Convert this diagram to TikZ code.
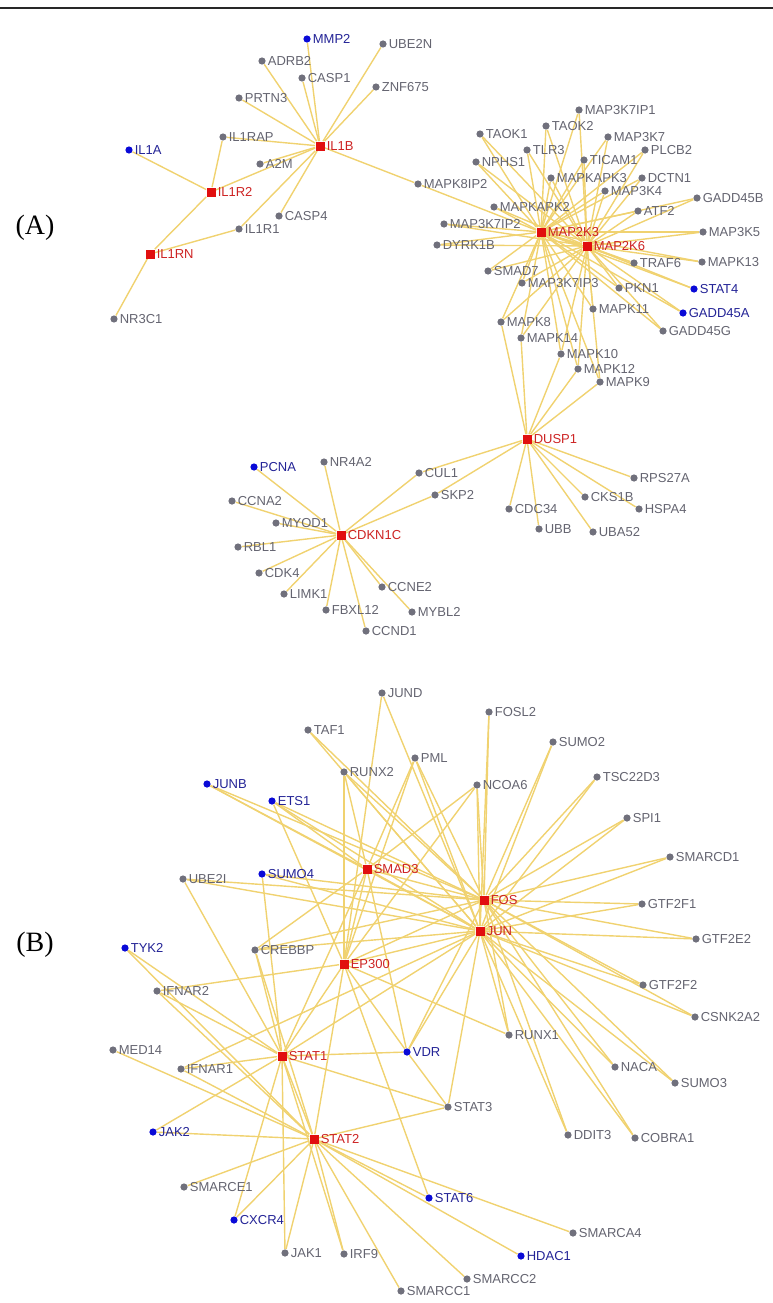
\documentclass[tikz,border=0pt]{standalone}
\usepackage{fontspec}
\setmainfont{Liberation Serif}
\newfontfamily\genefont{Liberation Sans}
\usetikzlibrary{backgrounds}

\definecolor{edgeyellow}{RGB}{240,210,112}
\definecolor{dotgray}{RGB}{112,112,124}
\definecolor{txtgray}{RGB}{100,100,112}
\definecolor{dotblue}{RGB}{10,10,215}
\definecolor{txtblue}{RGB}{35,35,150}
\definecolor{hubred}{RGB}{225,15,15}
\definecolor{txtred}{RGB}{205,35,35}

\tikzset{every picture/.style={line width=0.75pt}}
\tikzset{
  gtext/.style={font=\genefont\fontsize{13}{15}\selectfont, inner sep=1pt, text=txtgray},
  gene/.style={circle, fill=dotgray, inner sep=0pt, minimum size=7.2pt, label={[gtext, label distance=0.5pt]right:#1}},
  seed/.style={circle, fill=dotblue, inner sep=0pt, minimum size=7.2pt, label={[gtext, text=txtblue, label distance=0.5pt]right:#1}},
  hub/.style={rectangle, fill=hubred, inner sep=0pt, minimum size=9pt, label={[gtext, text=txtred, label distance=0.5pt]right:#1}},
  link/.style={draw=edgeyellow, line width=1.4pt},
  panel/.style={font=\fontsize{28}{30}\selectfont, inner sep=0pt}
}

\begin{document}
\begin{tikzpicture}[x=1pt,y=1pt,yscale=-1]
\useasboundingbox (0,0) rectangle (773,1303);
%top rule
\draw [line width=1.6pt, color={rgb, 255:red, 40; green, 40; blue, 40 }] (0,8) -- (773,8);
\node[panel] (pa) at (35,228) {(A)};
\node[panel] (pb) at (35,945) {(B)};

%Panel A: IL1B group
\node[hub=IL1B] (IL1B) at (320,146) {};
\node[hub=IL1R2] (IL1R2) at (211,192) {};
\node[hub=IL1RN] (IL1RN) at (150,254) {};
\node[seed=MMP2] (MMP2) at (307,39) {};
\node[seed=IL1A] (IL1A) at (129,150) {};
\node[gene=UBE2N] (UBE2N) at (383,44) {};
\node[gene=ADRB2] (ADRB2) at (262,61) {};
\node[gene=CASP1] (CASP1) at (302,78) {};
\node[gene=ZNF675] (ZNF675) at (376,87) {};
\node[gene=PRTN3] (PRTN3) at (239,98) {};
\node[gene=IL1RAP] (IL1RAP) at (223,137) {};
\node[gene=A2M] (A2M) at (260,164) {};
\node[gene=CASP4] (CASP4) at (279,216) {};
\node[gene=IL1R1] (IL1R1) at (239,229) {};
\node[gene=NR3C1] (NR3C1) at (114,319) {};
\node[gene=MAPK8IP2] (MAPK8IP2) at (418,184) {};

%Panel A: MAP2K3 / MAP2K6 group
\node[hub=MAP2K3] (MAP2K3) at (541,232) {};
\node[hub=MAP2K6] (MAP2K6) at (587,246) {};
\node[seed=STAT4] (STAT4) at (694,289) {};
\node[seed=GADD45A] (GADD45A) at (683,313) {};
\node[gene=MAP3K7IP1] (MAP3K7IP1) at (579,110) {};
\node[gene=TAOK2] (TAOK2) at (546,126) {};
\node[gene=TAOK1] (TAOK1) at (480,134) {};
\node[gene=MAP3K7] (MAP3K7) at (608,137) {};
\node[gene=TLR3] (TLR3) at (527,150) {};
\node[gene=PLCB2] (PLCB2) at (645,150) {};
\node[gene=NPHS1] (NPHS1) at (476,162) {};
\node[gene=TICAM1] (TICAM1) at (584,160) {};
\node[gene=MAPKAPK3] (MAPKAPK3) at (551,178) {};
\node[gene=DCTN1] (DCTN1) at (642,178) {};
\node[gene=MAP3K4] (MAP3K4) at (605,191) {};
\node[gene=GADD45B] (GADD45B) at (697,198) {};
\node[gene=MAPKAPK2] (MAPKAPK2) at (494,207) {};
\node[gene=ATF2] (ATF2) at (638,211) {};
\node[gene=MAP3K7IP2] (MAP3K7IP2) at (444,224) {};
\node[gene=MAP3K5] (MAP3K5) at (703,232) {};
\node[gene=DYRK1B] (DYRK1B) at (437,245) {};
\node[gene=TRAF6] (TRAF6) at (634,263) {};
\node[gene=MAPK13] (MAPK13) at (702,262) {};
\node[gene=SMAD7] (SMAD7) at (488,271) {};
\node[gene=MAP3K7IP3] (MAP3K7IP3) at (522,283) {};
\node[gene=PKN1] (PKN1) at (619,288) {};
\node[gene=MAPK11] (MAPK11) at (593,309) {};
\node[gene=MAPK8] (MAPK8) at (501,322) {};
\node[gene=GADD45G] (GADD45G) at (663,331) {};
\node[gene=MAPK14] (MAPK14) at (521,338) {};
\node[gene=MAPK10] (MAPK10) at (561,354) {};
\node[gene=MAPK12] (MAPK12) at (578,369) {};
\node[gene=MAPK9] (MAPK9) at (600,382) {};

%Panel A: DUSP1 / CDKN1C group
\node[hub=DUSP1] (DUSP1) at (527,439) {};
\node[hub=CDKN1C] (CDKN1C) at (341,535) {};
\node[seed=PCNA] (PCNA) at (254,467) {};
\node[gene=NR4A2] (NR4A2) at (324,462) {};
\node[gene=CUL1] (CUL1) at (419,473) {};
\node[gene=RPS27A] (RPS27A) at (634,478) {};
\node[gene=SKP2] (SKP2) at (435,495) {};
\node[gene=CKS1B] (CKS1B) at (585,497) {};
\node[gene=CCNA2] (CCNA2) at (232,501) {};
\node[gene=CDC34] (CDC34) at (509,509) {};
\node[gene=HSPA4] (HSPA4) at (639,509) {};
\node[gene=MYOD1] (MYOD1) at (276,523) {};
\node[gene=UBB] (UBB) at (539,529) {};
\node[gene=UBA52] (UBA52) at (593,532) {};
\node[gene=RBL1] (RBL1) at (238,547) {};
\node[gene=CDK4] (CDK4) at (259,573) {};
\node[gene=CCNE2] (CCNE2) at (382,587) {};
\node[gene=LIMK1] (LIMK1) at (284,594) {};
\node[gene=FBXL12] (FBXL12) at (326,610) {};
\node[gene=MYBL2] (MYBL2) at (412,612) {};
\node[gene=CCND1] (CCND1) at (366,631) {};

%Panel B
\node[hub=SMAD3] (SMAD3) at (367,869) {};
\node[hub=FOS] (FOS) at (484,900) {};
\node[hub=JUN] (JUN) at (480,931) {};
\node[hub=EP300] (EP300) at (344,964) {};
\node[hub=STAT1] (STAT1) at (282,1056) {};
\node[hub=STAT2] (STAT2) at (314,1139) {};
\node[seed=JUNB] (JUNB) at (207,784) {};
\node[seed=ETS1] (ETS1) at (272,801) {};
\node[seed=SUMO4] (SUMO4) at (262,874) {};
\node[seed=TYK2] (TYK2) at (125,948) {};
\node[seed=VDR] (VDR) at (407,1052) {};
\node[seed=JAK2] (JAK2) at (153,1132) {};
\node[seed=CXCR4] (CXCR4) at (234,1220) {};
\node[seed=STAT6] (STAT6) at (429,1198) {};
\node[seed=HDAC1] (HDAC1) at (521,1256) {};
\node[gene=JUND] (JUND) at (382,693) {};
\node[gene=FOSL2] (FOSL2) at (489,712) {};
\node[gene=TAF1] (TAF1) at (308,730) {};
\node[gene=SUMO2] (SUMO2) at (553,742) {};
\node[gene=PML] (PML) at (415,758) {};
\node[gene=RUNX2] (RUNX2) at (344,772) {};
\node[gene=TSC22D3] (TSC22D3) at (597,777) {};
\node[gene=NCOA6] (NCOA6) at (477,785) {};
\node[gene=SPI1] (SPI1) at (627,818) {};
\node[gene=SMARCD1] (SMARCD1) at (670,857) {};
\node[gene=UBE2I] (UBE2I) at (183,879) {};
\node[gene=GTF2F1] (GTF2F1) at (642,904) {};
\node[gene=GTF2E2] (GTF2E2) at (696,939) {};
\node[gene=CREBBP] (CREBBP) at (255,950) {};
\node[gene=GTF2F2] (GTF2F2) at (643,985) {};
\node[gene=IFNAR2] (IFNAR2) at (157,991) {};
\node[gene=CSNK2A2] (CSNK2A2) at (695,1017) {};
\node[gene=RUNX1] (RUNX1) at (509,1035) {};
\node[gene=MED14] (MED14) at (113,1050) {};
\node[gene=NACA] (NACA) at (615,1067) {};
\node[gene=IFNAR1] (IFNAR1) at (181,1069) {};
\node[gene=SUMO3] (SUMO3) at (675,1083) {};
\node[gene=STAT3] (STAT3) at (448,1107) {};
\node[gene=DDIT3] (DDIT3) at (568,1135) {};
\node[gene=COBRA1] (COBRA1) at (635,1138) {};
\node[gene=SMARCE1] (SMARCE1) at (184,1187) {};
\node[gene=SMARCA4] (SMARCA4) at (573,1233) {};
\node[gene=JAK1] (JAK1) at (285,1253) {};
\node[gene=IRF9] (IRF9) at (344,1254) {};
\node[gene=SMARCC2] (SMARCC2) at (467,1279) {};
\node[gene=SMARCC1] (SMARCC1) at (401,1291) {};

\begin{scope}[on background layer]
%Panel A links
\foreach \a/\b in {IL1B/MMP2, IL1B/UBE2N, IL1B/ADRB2, IL1B/CASP1, IL1B/ZNF675, IL1B/PRTN3, IL1B/IL1RAP, IL1B/A2M, IL1B/CASP4, IL1B/IL1R1, IL1B/MAPK8IP2, IL1B/IL1R2, IL1R2/IL1A, IL1R2/IL1RAP, IL1R2/IL1RN, IL1RN/IL1R1, IL1RN/NR3C1, MAPK8IP2/MAP2K3, MAP2K3/MAP2K6}
  \draw[link] (\a) -- (\b);
\foreach \g in {MAP3K7IP1, TAOK2, TAOK1, MAP3K7, TLR3, PLCB2, NPHS1, TICAM1, MAPKAPK3, DCTN1, MAP3K4, GADD45B, MAPKAPK2, ATF2, MAP3K7IP2, MAP3K5, DYRK1B, TRAF6, MAPK13, SMAD7, MAP3K7IP3, PKN1, STAT4, MAPK11, GADD45A, MAPK8, GADD45G, MAPK14, MAPK10, MAPK12, MAPK9}
  {\draw[link] (MAP2K3) -- (\g); \draw[link] (MAP2K6) -- (\g);}
\foreach \g in {MAPK8, MAPK14, MAPK10, MAPK12, MAPK9, CUL1, SKP2, CDC34, UBB, UBA52, CKS1B, HSPA4, RPS27A}
  \draw[link] (DUSP1) -- (\g);
\foreach \g in {PCNA, NR4A2, CUL1, SKP2, CCNA2, MYOD1, RBL1, CDK4, LIMK1, FBXL12, CCND1, CCNE2, MYBL2}
  \draw[link] (CDKN1C) -- (\g);
%Panel B links
\foreach \g in {FOSL2, SUMO2, TSC22D3, SPI1, SMARCD1, GTF2F1, GTF2E2, GTF2F2, CSNK2A2, NACA, SUMO3, DDIT3, COBRA1, RUNX1, NCOA6, PML, TAF1, JUNB, ETS1, RUNX2, SMAD3, EP300, CREBBP, VDR, UBE2I}
  {\draw[link] (FOS) -- (\g); \draw[link] (JUN) -- (\g);}
\foreach \a/\b in {JUN/JUND, JUN/STAT3, JUN/SUMO4, FOS/SUMO4, JUN/STAT1, JUN/IFNAR1,
  EP300/JUND, EP300/RUNX2, EP300/PML, EP300/NCOA6, EP300/ETS1, EP300/IFNAR2, EP300/VDR, EP300/STAT6, EP300/RUNX1, EP300/STAT1, EP300/STAT2, EP300/SMAD3,
  SMAD3/JUNB, SMAD3/ETS1, SMAD3/CREBBP, SMAD3/VDR, SMAD3/STAT1, SMAD3/PML, SMAD3/RUNX2, SMAD3/NCOA6,
  STAT1/TYK2, STAT1/IFNAR2, STAT1/IFNAR1, STAT1/JAK2, STAT1/JAK1, STAT1/CXCR4, STAT1/STAT2, STAT1/VDR, STAT1/STAT3, STAT1/CREBBP, STAT1/UBE2I, STAT1/SUMO4, STAT1/IRF9,
  STAT2/TYK2, STAT2/IFNAR2, STAT2/MED14, STAT2/IFNAR1, STAT2/JAK2, STAT2/SMARCE1, STAT2/CXCR4, STAT2/JAK1, STAT2/IRF9, STAT2/SMARCC1, STAT2/SMARCC2, STAT2/HDAC1, STAT2/SMARCA4, STAT2/STAT6, STAT2/STAT3, STAT2/CREBBP,
  VDR/STAT3}
  \draw[link] (\a) -- (\b);
\end{scope}
\end{tikzpicture}
\end{document}
